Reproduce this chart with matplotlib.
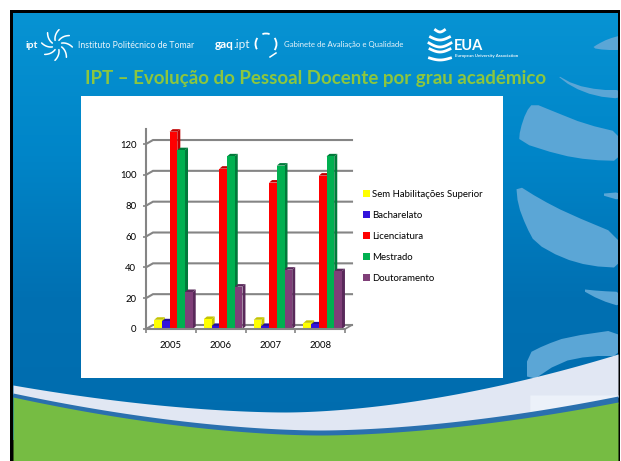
import numpy as np
import matplotlib
matplotlib.use("Agg")
import matplotlib.pyplot as plt
from matplotlib.patches import Polygon, Rectangle, Arc, Patch

years = ["2005", "2006", "2007", "2008"]
series_names = ["Sem Habilitações Superior", "Bacharelato", "Licenciatura", "Mestrado", "Doutoramento"]
sem_hab = [6, 6.5, 6, 4]
bacharelato = [5, 2, 2, 3]
licenciatura = [128, 104, 95, 99.5]
mestrado = [116, 112, 106, 112]
doutoramento = [24, 27.5, 38.5, 37.5]
yticks = [0, 20, 40, 60, 80, 100, 120]
front_colors = ["#ffff00", "#3213dc", "#ff0000", "#00b050", "#7f3f78"]
side_colors = ["#c4c400", "#22109a", "#c00000", "#007a3a", "#59295a"]
W, H = 621, 461
plt.rcParams["font.family"] = ["Lato", "DejaVu Sans"]
fig = plt.figure(figsize=(6.21, 4.61), dpi=100, facecolor="white")

# ---------- slide background in pixel coordinates ----------
bg = fig.add_axes([0, 0, 1, 1])
bg.set_xlim(0, W); bg.set_ylim(H, 0); bg.axis("off")
bg.add_patch(Rectangle((10, 10), 610, 460, fc="black", ec="none", zorder=0))
L, R, T = 13, 618, 13.5
cmap = matplotlib.colors.LinearSegmentedColormap.from_list("b", ["#0793d3", "#0085c8", "#0070b2", "#006cae"])
bg.imshow(np.linspace(0, 1, 200)[:, None], extent=(L, R, 440, T), cmap=cmap, aspect="auto", zorder=1)
bg.set_xlim(0, W); bg.set_ylim(H, 0)

def smooth(pts, n=1):
    p = np.asarray(pts, float)
    for _ in range(n):
        q = np.roll(p, -1, axis=0)
        p = np.column_stack([0.75 * p + 0.25 * q, 0.25 * p + 0.75 * q]).reshape(-1, 2)
    return p

swooshes = [
    [(592, 48), (598, 44), (608, 39), (622, 35), (622, 50), (605, 50)],
    [(555, 74), (575, 85), (600, 90), (622, 90), (622, 99), (595, 96), (572, 87)],
    [(533, 103), (555, 112), (585, 124), (622, 133), (622, 161), (590, 160), (560, 155), (519, 142), (520, 130), (526, 112)],
    [(516, 184), (540, 199), (567, 213), (622, 236), (622, 268), (590, 266), (562, 258), (535, 243), (526, 226), (518, 205)],
    [(598, 194), (622, 192), (622, 201)],
    [(580, 289), (600, 291), (622, 292), (622, 307), (600, 300)],
    [(527, 354), (545, 345), (567, 337), (622, 329), (622, 356), (590, 356), (560, 362), (527, 384)],
]
clip = Rectangle((L, T), R - L, H, transform=bg.transData)
for s in swooshes:
    pg = Polygon(smooth(s, 1), fc="#5ba6d6", ec="none", zorder=2)
    bg.add_patch(pg); pg.set_clip_path(clip)

xs = np.linspace(L, R, 200)
def curve(y_left, x_low, y_low, y_right):
    return np.where(xs < x_low,
                    y_low - (y_low - y_left) * ((x_low - xs) / (x_low - L)) ** 1.75,
                    y_low - (y_low - y_right) * ((xs - x_low) / (R - x_low)) ** 1.75)
band_top = curve(385, 285, 412, 354)
band_bot = curve(393, 320, 430, 396)
stripe_bot = curve(397, 320, 435, 402)
bg.fill_between(xs, band_top, band_bot + 1, color="#e1e7f3", lw=0, zorder=3)
bg.fill_between(xs, 395, band_bot + 1, where=xs >= 527, color="#ecf1f9", lw=0, zorder=3.1)
bg.fill_between(xs, band_bot, stripe_bot + 1, color="#2a70ae", lw=0, zorder=3.2)
bg.fill_between(xs, stripe_bot, H, color="#76bc43", lw=0, zorder=3.3)
bg.add_patch(Rectangle((81, 96), 422, 282, fc="white", ec="none", zorder=3))

# ---------- header ----------
tc = "white"
bg.text(25, 45, "ipt", color=tc, fontsize=7.5, fontweight="bold", va="center", zorder=5)
cx, cy = 57, 45
for a in np.arange(22.5, 360, 45):
    r = np.linspace(5, 15.5, 12)
    t = np.radians(a) + (r - 5) * 0.05
    bg.plot(cx + r * np.cos(t), cy + r * np.sin(t), color=tc, lw=1.1, zorder=5, solid_capstyle="round")
bg.text(77.5, 45, "Instituto Politécnico de Tomar", color="#eaf5fb", fontsize=6.3, va="center", zorder=5)
bg.text(215, 45, "gaq", color=tc, fontsize=8.5, fontweight="bold", va="center", zorder=5)
bg.text(233, 45, ".ipt", color="#eaf5fb", fontsize=8.5, va="center", zorder=5)
for st, en in [(150, 215), (250, 290), (325, 395)]:
    bg.add_patch(Arc((266, 44), 21, 21, theta1=st, theta2=en, color=tc, lw=1.3, zorder=5))
bg.plot([270, 276], [57, 53], color=tc, lw=1.1, zorder=5)
bg.text(284, 45, "Gabinete de Avaliação e Qualidade", color="#eaf5fb", fontsize=5.6, va="center", zorder=5)
for y0, w0, d in [(30, 9, 2), (37, 19, 3), (43, 22, 4), (49, 20, 3), (58, 21, 2)]:
    x = np.linspace(440 - w0 / 2, 440 + w0 / 2, 20)
    bg.plot(x, y0 + d * np.sin((x - x[0]) / w0 * np.pi), color=tc, lw=2.0, zorder=5)
bg.text(454, 46, "EUA", color=tc, fontsize=10.5, fontweight="bold", va="center", zorder=5)
bg.text(455, 56.5, "European University Association", color="#eaf5fb", fontsize=3.2, fontweight="bold", va="center", zorder=5)
bg.text(316, 78.5, "IPT – Evolução do Pessoal Docente por grau académico", color="#8cc63f",
        fontsize=13.5, fontweight="bold", ha="center", va="center", zorder=5)

# ---------- chart ----------
x0, x1, y0_px, y1_px = 146, 345, 329, 128.6
ax = fig.add_axes([x0 / W, 1 - y0_px / H, (x1 - x0) / W, (y0_px - y1_px) / H])
ax.patch.set_alpha(0)
ax.set_xlim(-0.5, 3.5); ax.set_ylim(0, 130)
px_x = 4 / (x1 - x0); px_y = 130 / (y0_px - y1_px)
wx, wy = 7 * px_x, 4 * px_y   # wall offset
grey = "#858585"
for v in yticks:
    ax.plot([-0.5, -0.5 + wx, 3.5 + wx], [v, v + wy, v + wy], color=grey, lw=1.5, clip_on=False, zorder=1, solid_joinstyle="miter")
ax.plot([3.5, 3.5 + wx], [0, wy], color=grey, lw=1.2, clip_on=False, zorder=1)

bw = 7.7 * px_x
dx, dy = 3 * px_x, 2.5 * px_y
pos = np.arange(len(years))
all_series = [sem_hab, bacharelato, licenciatura, mestrado, doutoramento]
for i, (vals, name) in enumerate(zip(all_series, series_names)):
    xc = pos + 0.052 + (i - 2) * bw
    for xx, v in zip(xc, vals):
        l, r = xx - bw / 2, xx + bw / 2
        ax.add_patch(Polygon([(r, 0), (r + dx, dy), (r + dx, v + dy), (r, v)], fc=side_colors[i], ec="none", zorder=3 + i, clip_on=False))
        ax.add_patch(Polygon([(l, v), (l + dx, v + dy), (r + dx, v + dy), (r, v)], fc=side_colors[i], ec="none", zorder=3 + i, clip_on=False))
    ax.bar(xc, vals, width=bw, color=front_colors[i], label=name, zorder=3.5 + i, clip_on=False, lw=0)

for s in ["top", "right"]:
    ax.spines[s].set_visible(False)
for s in ["left", "bottom"]:
    ax.spines[s].set_color(grey); ax.spines[s].set_linewidth(1.5); ax.spines[s].set_zorder(10)
ax.set_yticks(yticks)
ax.set_yticklabels([str(v) for v in yticks], fontsize=6.8, color="black")
ax.set_xticks(np.arange(-0.5, 3.6, 1)); ax.set_xticklabels([])
ax.set_xticks(pos, minor=True); ax.set_xticklabels(years, minor=True, fontsize=6.8, color="black")
ax.tick_params(axis="x", which="major", length=3, width=1.2, color=grey)
ax.tick_params(axis="x", which="minor", length=0, pad=9)
ax.tick_params(axis="y", length=2.5, width=1.2, color=grey, pad=4.5)

handles = [Patch(fc=c, ec="none", label=n) for c, n in zip(front_colors, series_names)]
ax.legend(handles=handles, loc="center left", bbox_to_anchor=((363 - x0) / (x1 - x0), (y0_px - 236.5) / (y0_px - y1_px)),
          frameon=False, fontsize=6.9, handlelength=0.73, handleheight=0.73, handletextpad=0.2,
          labelspacing=1.24, borderpad=0, borderaxespad=0)
fig.savefig("out.png", dpi=100)
